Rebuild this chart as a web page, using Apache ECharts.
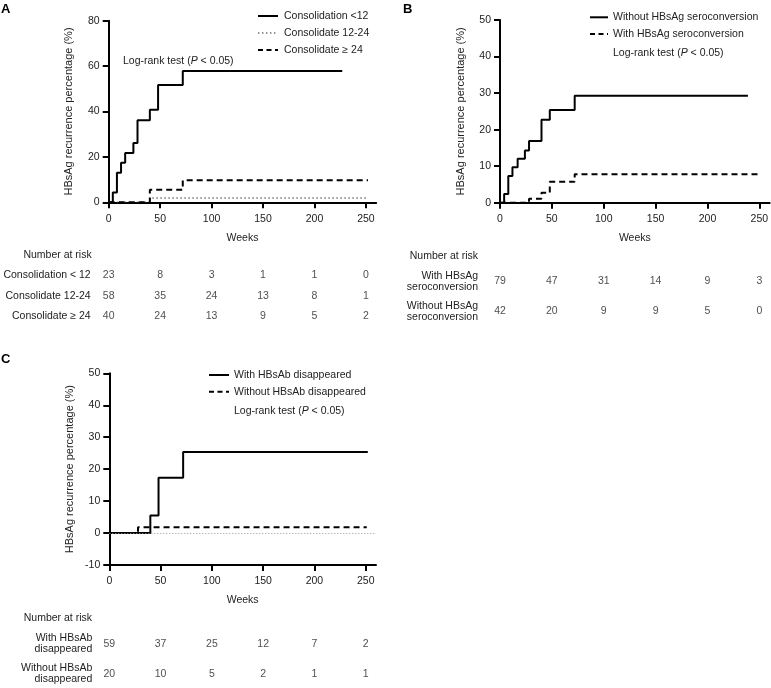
<!DOCTYPE html>
<html><head><meta charset="utf-8">
<script src="https://cdn.jsdelivr.net/npm/echarts@6/dist/echarts.min.js"></script>
<style>html,body{margin:0;padding:0;background:#fff}#c{width:771px;height:688px}</style>
</head><body><div id="c"></div>
<script>
// ---- tick labels ----
const xTicks = [0, 50, 100, 150, 200, 250];
const riskWeeks = [0, 50, 100, 150, 200, 250];

// ---- Panel A ----
const aNames = ['Consolidation <12', 'Consolidate 12-24', 'Consolidate \u2265 24'];
const aLt12Weeks = [0, 4, 8, 12, 16, 24, 28, 40, 48, 72, 227];
const aLt12Pct   = [0, 4.3, 13.0, 17.4, 21.7, 26.1, 36.1, 40.8, 51.7, 57.8, 57.8];
const a1224Weeks = [0, 40, 252];
const a1224Pct   = [0, 1.9, 1.9];
const aGe24Weeks = [0, 40, 72, 252];
const aGe24Pct   = [0, 5.5, 9.7, 9.7];
const aRiskRows  = ['Consolidation < 12', 'Consolidate 12-24', 'Consolidate \u2265 24'];
const aRiskLt12  = [23, 8, 3, 1, 1, 0];
const aRisk1224  = [58, 35, 24, 13, 8, 1];
const aRiskGe24  = [40, 24, 13, 9, 5, 2];

// ---- Panel B ----
const bNames = ['Without HBsAg seroconversion', 'With HBsAg seroconversion'];
const bWithoutWeeks = [0, 4, 8, 12, 17, 24, 28, 40, 48, 72, 239];
const bWithoutPct   = [0, 2.4, 7.3, 9.7, 12.0, 14.3, 16.9, 22.7, 25.4, 29.3, 29.3];
const bWithWeeks    = [0, 28, 40, 48, 72, 250];
const bWithPct      = [0, 1.1, 2.7, 5.7, 7.8, 7.8];
const bRiskRows     = ['With HBsAg\nseroconversion', 'Without HBsAg\nseroconversion'];
const bRiskWith     = [79, 47, 31, 14, 9, 3];
const bRiskWithout  = [42, 20, 9, 9, 5, 0];

// ---- Panel C ----
const cNames = ['With HBsAb disappeared', 'Without HBsAb disappeared'];
const cWithWeeks    = [0, 40, 48, 72, 252];
const cWithPct      = [0, 5.5, 17.3, 25.4, 25.4];
const cWithoutWeeks = [0, 28, 251];
const cWithoutPct   = [0, 1.8, 1.8];
const cRiskRows     = ['With HBsAb\ndisappeared', 'Without HBsAb\ndisappeared'];
const cRiskWith     = [59, 37, 25, 12, 7, 2];
const cRiskWithout  = [20, 10, 5, 2, 1, 1];

const yLabel = 'HBsAg recurrence percentage (%)';
const logRank = ['Log-rank test (', 'P', ' < 0.05)'];
const riskHeader = 'Number at risk';

// ---- styling ----
const FONT = '"Liberation Sans", Arial, sans-serif';
const TXT = '#222';
const FS = 10.5;

const pts = (w, p) => w.map((x, i) => [x, p[i]]);

const mainGrids = [
  {left: 108.7, top: 20.7, width: 267.5, height: 181.6},
  {left: 500, top: 20, width: 269.7, height: 182.7},
  {left: 109.3, top: 373.3, width: 266.7, height: 191.7}
];
const tableGrids = [
  {left: 108.7, top: 265.4, width: 267.5, height: 60.6, margin: 18},
  {left: 500, top: 266.5, width: 269.7, height: 60, margin: 22},
  {left: 109.3, top: 629, width: 266.7, height: 60, margin: 17}
];
const yRanges = [[0, 80, 20], [0, 50, 10], [-10, 50, 10]];

const grid = [];
const xAxis = [];
const yAxis = [];
mainGrids.forEach((g, i) => {
  grid.push({left: g.left, top: g.top, width: g.width, height: g.height, outerBoundsMode: 'none', containLabel: false});
  xAxis.push({
    type: 'value', gridIndex: i, min: 0, max: 260,
    name: 'Weeks', nameLocation: 'middle', nameGap: 30,
    nameTextStyle: {fontFamily: FONT, fontSize: FS, color: TXT},
    axisLine: {show: true, onZero: false, lineStyle: {color: '#000', width: 2}},
    axisTick: {show: true, inside: false, length: 6, customValues: xTicks, lineStyle: {color: '#000', width: 2}},
    axisLabel: {show: true, margin: 11, customValues: xTicks, fontFamily: FONT, fontSize: FS, color: TXT},
    splitLine: {show: false}
  });
  const r = yRanges[i];
  yAxis.push({
    type: 'value', gridIndex: i, min: r[0], max: r[1], interval: r[2],
    name: yLabel, nameLocation: 'middle', nameGap: 34,
    nameTextStyle: {fontFamily: FONT, fontSize: 11, color: TXT},
    axisLine: {show: true, onZero: false, lineStyle: {color: '#000', width: 2}},
    axisTick: {show: true, inside: false, length: 6, lineStyle: {color: '#000', width: 2}},
    axisLabel: {show: true, margin: 9, fontFamily: FONT, fontSize: FS, color: TXT},
    splitLine: {show: false}
  });
});
const tableRows = [aRiskRows, bRiskRows, cRiskRows];
tableGrids.forEach((g, i) => {
  const gi = 3 + i;
  grid.push({left: g.left, top: g.top, width: g.width, height: g.height, outerBoundsMode: 'none', containLabel: false});
  xAxis.push({type: 'value', gridIndex: gi, min: 0, max: 260, show: false});
  yAxis.push({
    type: 'category', gridIndex: gi, inverse: true, data: tableRows[i],
    axisLine: {show: false}, axisTick: {show: false}, splitLine: {show: false},
    axisLabel: {show: true, margin: g.margin, fontFamily: FONT, fontSize: FS, color: TXT, lineHeight: 11, align: 'right'}
  });
});

const solid = {color: '#000', width: 2, type: 'solid'};
const dashed = {color: '#000', width: 2, type: [6, 4]};
const dotted = {color: '#222', width: 1.2, type: [1.4, 2.6]};

function km(name, gi, w, p, ls) {
  return {name, type: 'line', xAxisIndex: gi, yAxisIndex: gi, step: 'end', symbol: 'none',
    data: pts(w, p), lineStyle: ls, silent: true, animation: false, z: 3};
}
function risk(gi, row, counts) {
  return {type: 'scatter', xAxisIndex: gi, yAxisIndex: gi, symbolSize: 0, silent: true, animation: false,
    data: counts.map((n, i) => [riskWeeks[i], row, n]),
    label: {show: true, position: 'inside', formatter: p => String(p.value[2]),
      fontFamily: FONT, fontSize: FS, color: TXT}};
}

const series = [
  km(aNames[0], 0, aLt12Weeks, aLt12Pct, solid),
  km(aNames[1], 0, a1224Weeks, a1224Pct, dotted),
  km(aNames[2], 0, aGe24Weeks, aGe24Pct, dashed),
  km(bNames[0], 1, bWithoutWeeks, bWithoutPct, solid),
  km(bNames[1], 1, bWithWeeks, bWithPct, dashed),
  Object.assign(km(cNames[0], 2, cWithWeeks, cWithPct, solid), {
    markLine: {silent: true, symbol: 'none', label: {show: false}, animation: false,
      lineStyle: {color: '#999', width: 1, type: [1, 2]}, data: [{yAxis: 0}]}
  }),
  km(cNames[1], 2, cWithoutWeeks, cWithoutPct, dashed),
  risk(3, aRiskRows[0], aRiskLt12),
  risk(3, aRiskRows[1], aRisk1224),
  risk(3, aRiskRows[2], aRiskGe24),
  risk(4, bRiskRows[0], bRiskWith),
  risk(4, bRiskRows[1], bRiskWithout),
  risk(5, cRiskRows[0], cRiskWith),
  risk(5, cRiskRows[1], cRiskWithout)
];

// legends / annotations (graphic)
const legendDefs = [
  {x: 258, w: 20, tx: 284, ys: [16, 33, 50], names: aNames, styles: [solid, dotted, dashed], lr: [123, 60.7]},
  {x: 590, w: 18, tx: 613, ys: [17.3, 34], names: bNames, styles: [solid, dashed], lr: [613, 53.3]},
  {x: 209, w: 20, tx: 234, ys: [375, 391.7], names: cNames, styles: [solid, dashed], lr: [234, 411]}
];
const graphic = [];
legendDefs.forEach(d => {
  d.names.forEach((n, i) => {
    const s = d.styles[i];
    graphic.push({type: 'line', silent: true,
      shape: {x1: d.x, y1: d.ys[i], x2: d.x + d.w, y2: d.ys[i]},
      style: {stroke: s.color, lineWidth: s.width, lineDash: Array.isArray(s.type) ? (s.width > 1.5 ? [5, 3.5] : s.type) : null}});
    graphic.push({type: 'text', silent: true, x: d.tx, y: d.ys[i],
      style: {text: n, font: FS + 'px ' + FONT, fill: TXT, verticalAlign: 'middle', align: 'left'}});
  });
  graphic.push({type: 'text', silent: true, x: d.lr[0], y: d.lr[1],
    style: {text: '{n|' + logRank[0] + '}{i|' + logRank[1] + '}{n|' + logRank[2] + '}',
      verticalAlign: 'middle', align: 'left',
      rich: {n: {fontFamily: FONT, fontSize: FS, fill: TXT, color: TXT},
             i: {fontFamily: FONT, fontSize: FS, fontStyle: 'italic', fill: TXT, color: TXT}}}});
});
const headers = [[91.7, 255], [478, 256.5], [92, 617.7]];
headers.forEach(h => graphic.push({type: 'text', silent: true, x: h[0], y: h[1],
  style: {text: riskHeader, font: FS + 'px ' + FONT, fill: TXT, align: 'right', verticalAlign: 'middle'}}));
[['A', 1, 3], ['B', 403, 3], ['C', 1, 353]].forEach(l => graphic.push({type: 'text', silent: true, x: l[1], y: l[2],
  style: {text: l[0], font: 'bold 13px ' + FONT, fill: '#000'}}));

const chart = echarts.init(document.getElementById('c'), null, {renderer: 'canvas'});
chart.setOption({animation: false, backgroundColor: '#fff', grid, xAxis, yAxis, series, graphic});
</script>
</body></html>
